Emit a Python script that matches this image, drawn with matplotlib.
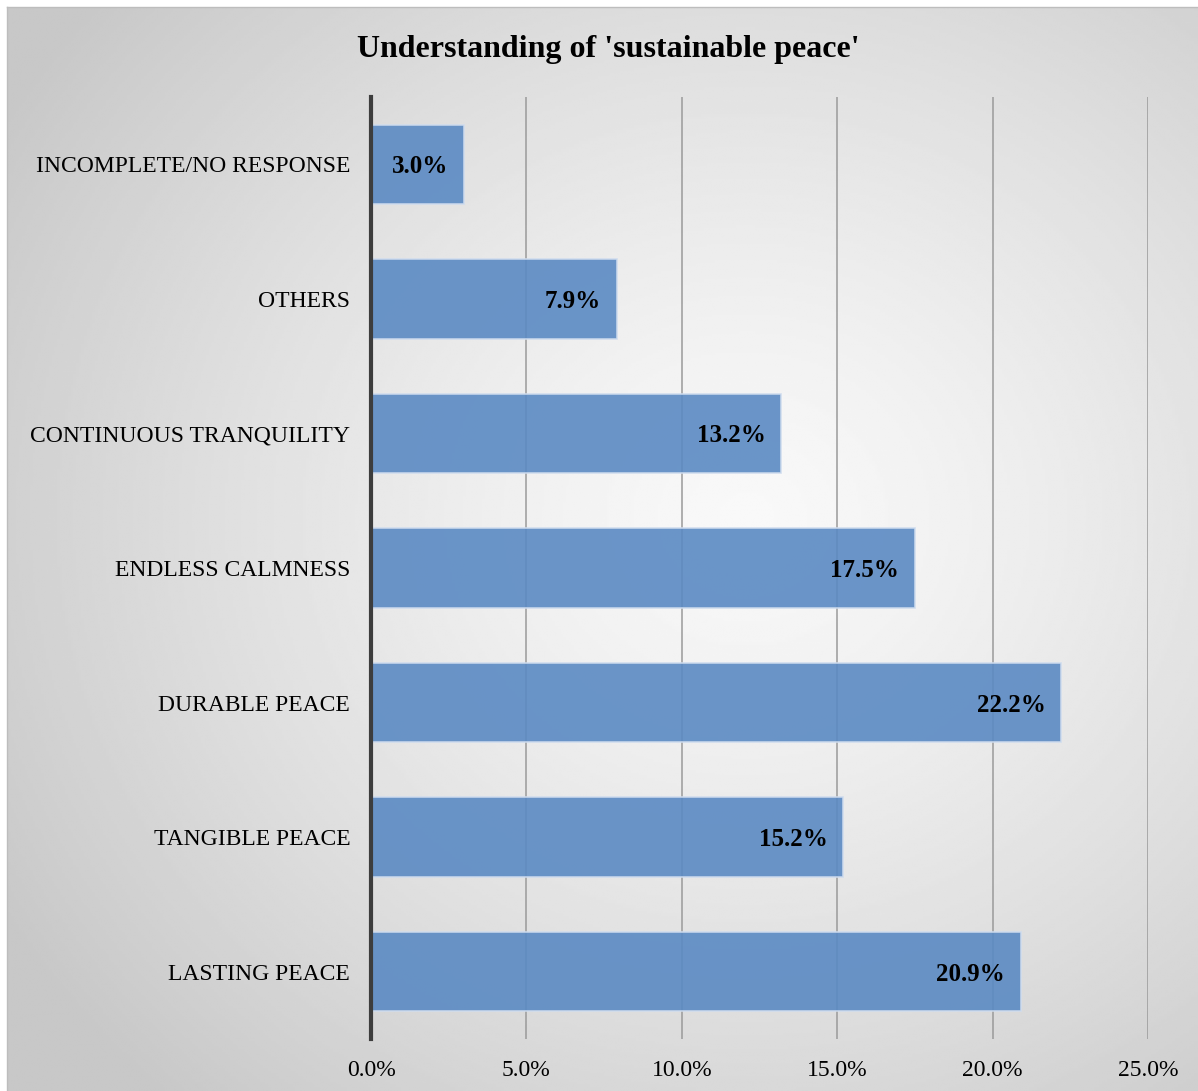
import numpy as np
import matplotlib
matplotlib.use("Agg")
import matplotlib.pyplot as plt
from matplotlib.ticker import PercentFormatter

plt.rcParams['font.family'] = ['Liberation Serif', 'DejaVu Serif']

# survey answers, bottom to top as drawn
categories = ['LASTING PEACE', 'TANGIBLE PEACE', 'DURABLE PEACE', 'ENDLESS CALMNESS',
              'CONTINUOUS TRANQUILITY', 'OTHERS', 'INCOMPLETE/NO RESPONSE']
shares = [20.9, 15.2, 22.2, 17.5, 13.2, 7.9, 3.0]
x_ticks = [0, 5, 10, 15, 20, 25]

W, H = 1198, 1091
fig = plt.figure(figsize=(W / 100, H / 100), dpi=100)
fig.patch.set_facecolor('white')

# radial gradient backdrop for the chart area
bg = fig.add_axes([7 / W, 0, 1 - 7 / W, 1 - 7 / H], zorder=0)
yy, xx = np.mgrid[0:400, 0:440]
cx, cy = 440 * 0.62, 400 * 0.47
r = np.hypot((xx - cx) / 440, (yy - cy) / 400)
r = np.clip(r / 0.72, 0, 1)
shade = 0.975 - 0.19 * r ** 1.3
bg.imshow(shade, cmap='gray', vmin=0, vmax=1, aspect='auto', interpolation='bilinear')
bg.set_xticks([])
bg.set_yticks([])
for s in bg.spines.values():
    s.set_color('#bdbdbd')
    s.set_linewidth(1)
bg.spines['right'].set_visible(False)
bg.spines['bottom'].set_visible(False)

ax = fig.add_axes([371 / W, 1 - 1039 / H, (1148 - 371) / W, (1039 - 97) / H], zorder=1)
ax.patch.set_alpha(0)

y = np.arange(len(categories))
ax.barh(y, shares, height=0.59, color='#5b8ac3', alpha=0.9,
        edgecolor='#cfdcee', linewidth=1.2, zorder=3)

for yi, v in zip(y, shares):
    ax.text(v - 0.5, yi, f'{v:.1f}%', ha='right', va='center_baseline',
            fontsize=18, fontweight='bold', color='black', zorder=4)

ax.set_xlim(0, 25)
ax.set_ylim(-0.5, len(categories) - 0.5)
ax.set_xticks(x_ticks)
ax.xaxis.set_major_formatter(PercentFormatter(decimals=1))
ax.set_yticks(y)
ax.set_yticklabels(categories)
ax.tick_params(axis='both', length=0, labelsize=17, colors='black')
ax.tick_params(axis='x', pad=15)
ax.tick_params(axis='y', pad=15)

ax.grid(axis='x', color='#9a9a9a', linewidth=1.1, zorder=1)
ax.set_axisbelow(True)
for side in ['top', 'right', 'bottom']:
    ax.spines[side].set_visible(False)
ax.spines['left'].set_color('#3d3d3d')
ax.spines['left'].set_linewidth(3)
ax.spines['left'].set_zorder(5)

fig.text(608 / W, 1 - 50 / H, "Understanding of 'sustainable peace'",
         ha='center', va='center', fontsize=23, fontweight='bold')

fig.savefig('out.png', dpi=100)
